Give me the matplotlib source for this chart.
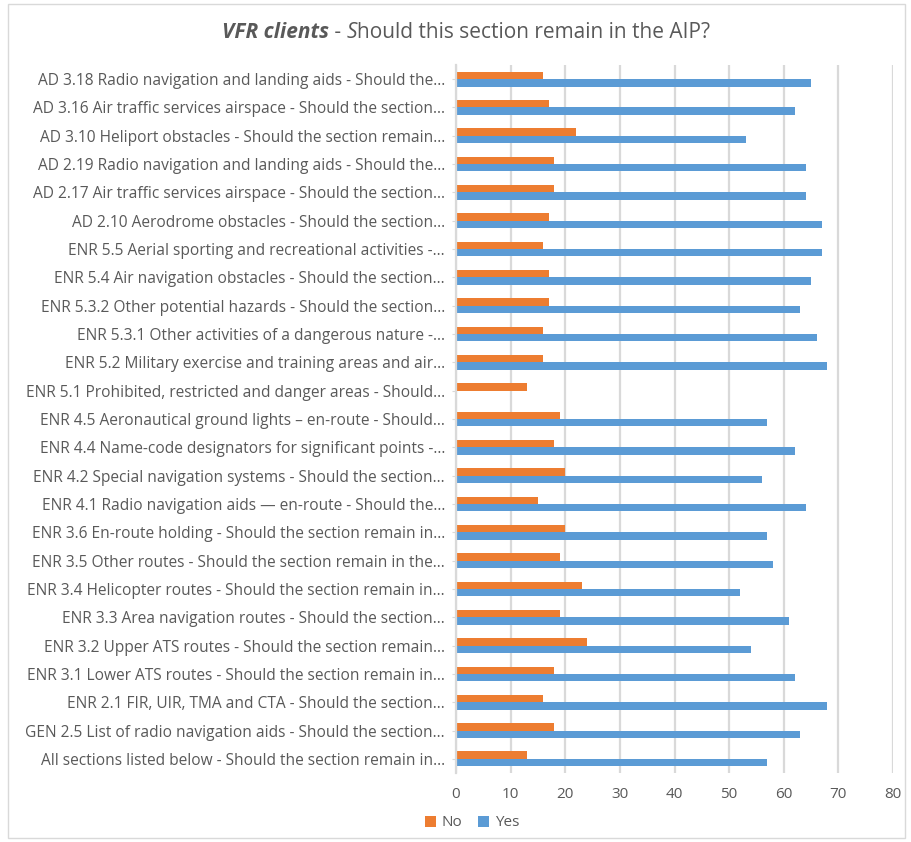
import numpy as np
import matplotlib
matplotlib.use("Agg")
import matplotlib.pyplot as plt
from matplotlib.patches import Rectangle

plt.rcParams['font.family'] = ['Open Sans', 'DejaVu Sans']

# categories listed bottom to top (Excel order)
sections = [
    "All sections listed below - Should the section remain in...",
    "GEN 2.5 List of radio navigation aids - Should the section...",
    "ENR 2.1 FIR, UIR, TMA and CTA - Should the section...",
    "ENR 3.1 Lower ATS routes - Should the section remain in...",
    "ENR 3.2 Upper ATS routes - Should the section remain...",
    "ENR 3.3 Area navigation routes - Should the section...",
    "ENR 3.4 Helicopter routes - Should the section remain in...",
    "ENR 3.5 Other routes - Should the section remain in the...",
    "ENR 3.6 En-route holding - Should the section remain in...",
    "ENR 4.1 Radio navigation aids \u2014 en-route - Should the...",
    "ENR 4.2 Special navigation systems - Should the section...",
    "ENR 4.4 Name-code designators for significant points -...",
    "ENR 4.5 Aeronautical ground lights \u2013 en-route - Should...",
    "ENR 5.1 Prohibited, restricted and danger areas - Should...",
    "ENR 5.2 Military exercise and training areas and air...",
    "ENR 5.3.1 Other activities of a dangerous nature -...",
    "ENR 5.3.2 Other potential hazards - Should the section...",
    "ENR 5.4 Air navigation obstacles - Should the section...",
    "ENR 5.5 Aerial sporting and recreational activities -...",
    "AD 2.10 Aerodrome obstacles - Should the section...",
    "AD 2.17 Air traffic services airspace - Should the section...",
    "AD 2.19 Radio navigation and landing aids - Should the...",
    "AD 3.10 Heliport obstacles - Should the section remain...",
    "AD 3.16 Air traffic services airspace - Should the section...",
    "AD 3.18 Radio navigation and landing aids - Should the...",
]
no_votes = [13, 18, 16, 18, 24, 19, 23, 19, 20, 15, 20, 18, 19, 13,
            16, 16, 17, 17, 16, 17, 18, 18, 22, 17, 16]
yes_votes = [57, 63, 68, 62, 54, 61, 52, 58, 57, 64, 56, 62, 57, 0,
             68, 66, 63, 65, 67, 67, 64, 64, 53, 62, 65]
x_ticks = [0, 10, 20, 30, 40, 50, 60, 70, 80]

orange = "#ED7D31"
blue = "#5B9BD5"
txt = "#595959"
grid = "#D9D9D9"

fig = plt.figure(figsize=(9.12, 8.42), dpi=100)
ax = fig.add_axes([456 / 912, 1 - 773 / 842, (893 - 456) / 912, (773 - 65) / 842])

y = np.arange(len(sections))
h = 0.26
ax.barh(y + h / 2, no_votes, height=h, color=orange, label="No")
ax.barh(y - h / 2, yes_votes, height=h, color=blue, label="Yes")

ax.set_xlim(0, 80)
ax.set_ylim(-0.5, len(sections) - 0.5)
ax.set_xticks(x_ticks)
ax.set_yticks(y)
ax.set_yticklabels(sections, fontsize=11.2, color=txt)
ax.tick_params(axis='x', length=0, labelsize=11, colors=txt, pad=10)
ax.tick_params(axis='y', length=3, color=grid, pad=5)
ax.xaxis.grid(True, color=grid, linewidth=1.6)
ax.set_axisbelow(True)
for s in ['top', 'right', 'bottom']:
    ax.spines[s].set_visible(False)
ax.spines['left'].set_color(grid)
ax.spines['left'].set_linewidth(1.6)

# title with mixed styling
pieces = [("VFR clients", "bold", "italic"), (" - ", "normal", "normal"),
          ("S", "normal", "italic"), ("hould this section remain in the AIP?", "normal", "normal")]
fig.canvas.draw()
r = fig.canvas.get_renderer()
texts = []
for s, w, st in pieces:
    t = fig.text(0, 1 - 32 / 842, s, fontsize=15, fontweight=w, fontstyle=st,
                 color=txt, va='center', ha='left')
    texts.append(t)
widths = [t.get_window_extent(r).width for t in texts]
x0 = 466 - sum(widths) / 2
for t, wd in zip(texts, widths):
    t.set_x(x0 / 912)
    x0 += wd

leg = fig.legend(loc='center', bbox_to_anchor=(472 / 912, 1 - 823 / 842), ncol=2,
                 frameon=False, fontsize=11, handlelength=0.7, handleheight=0.7,
                 columnspacing=1.0, handletextpad=0.4)
for t in leg.get_texts():
    t.set_color(txt)

fig.patches.append(Rectangle((8 / 912, 4 / 842), 897 / 912, 834 / 842, transform=fig.transFigure,
                             fill=False, edgecolor=grid, linewidth=1))

fig.savefig("out.png", dpi=100)
